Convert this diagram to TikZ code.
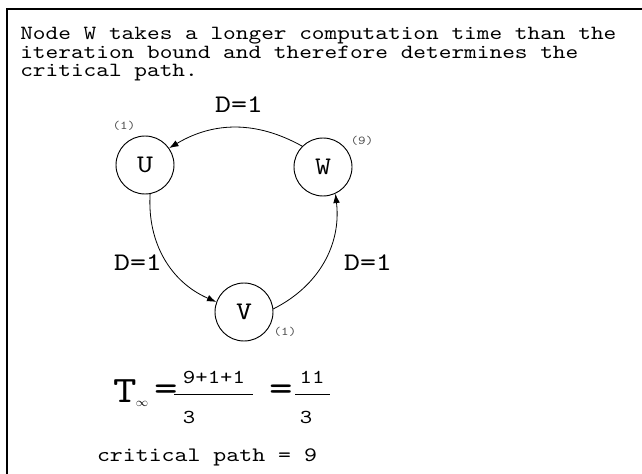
\documentclass[tikz,border=0pt]{standalone}
\usepackage{fontspec}
\setmonofont{lmmono10-regular.otf}[FakeStretch=1.2]
\usetikzlibrary{arrows.meta}

\begin{document}
\begin{tikzpicture}[x=0.75pt,y=-0.75pt, every node/.style={font=\ttfamily, inner sep=0pt},
  vtx/.style={draw,circle,minimum size=43.5pt,line width=0.7pt,font=\ttfamily\fontsize{19}{19}\selectfont},
  dlab/.style={font=\ttfamily\fontsize{19}{19}\selectfont},
  wlab/.style={font=\ttfamily\fontsize{9}{9}\selectfont,text=black!70},
  edge/.style={-{Latex[length=7pt,width=5pt]},line width=0.6pt}]
  \useasboundingbox (0,0) rectangle (642,474);
  \draw[line width=2pt] (7,474) -- (7,9) -- (642,9);
  % caption
  \node[anchor=north west,align=left,font=\ttfamily\fontsize{15.1}{14}\selectfont] (cap) at (20,27) {Node W takes a longer computation time than the\\iteration bound and therefore determines the\\critical path.};
  % graph
  \node[vtx] (U) at (145,165) {U};
  \node[vtx] (W) at (323,167) {W};
  \node[vtx] (V) at (244,312) {V};
  \node[wlab] (tu) at (124,126) {(1)};
  \node[wlab] (tw) at (362,141) {(9)};
  \node[wlab] (tv) at (285,332) {(1)};
  \node[dlab] (dwu) at (239,105) {D=1};
  \node[dlab] (duv) at (138,263) {D=1};
  \node[dlab] (dvw) at (368,263) {D=1};
  \draw[edge] (W.135) to[bend right=30] (U.35);
  \draw[edge] (U.-80) to[bend right=35] (V.160);
  \draw[edge] (V.6) to[bend right=35] (W.-65);
  % iteration bound
  \node[font=\ttfamily\fontsize{28}{28}\selectfont] (T) at (125,391) {T};
  \node[font=\fontsize{9}{9}\selectfont] (inf) at (142,404) {$\infty$};
  \node[font=\ttfamily\fontsize{28}{28}\selectfont] (eq1) at (166,393) {=};
  \node[font=\ttfamily\fontsize{14.8}{14.8}\selectfont] (n1) at (214,377) {9+1+1};
  \node[font=\ttfamily\fontsize{14.8}{14.8}\selectfont] (d1) at (189,417) {3};
  \draw[line width=0.6pt] (174,394) -- (253,394);
  \node[font=\ttfamily\fontsize{28}{28}\selectfont] (eq2) at (281,393) {=};
  \node[font=\ttfamily\fontsize{14.8}{14.8}\selectfont] (n2) at (312,377) {11};
  \node[font=\ttfamily\fontsize{14.8}{14.8}\selectfont] (d2) at (306,417) {3};
  \draw[line width=0.6pt] (295,394) -- (330,394);
  \node[font=\ttfamily\fontsize{15.4}{15.4}\selectfont] (cp) at (207,457) {critical path = 9};
\end{tikzpicture}
\end{document}
